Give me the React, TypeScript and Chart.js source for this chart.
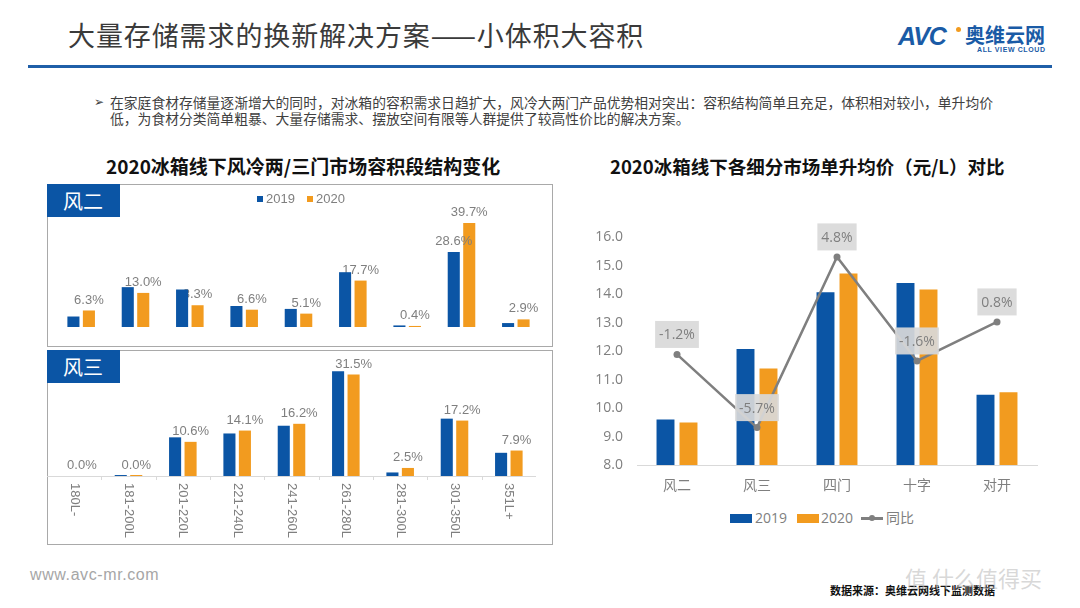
import React, { useEffect, useRef } from 'react';
import { Chart, registerables } from 'chart.js';

Chart.register(...registerables);

// ---------- data ----------
const capacityBands = ['180L-', '181-200L', '201-220L', '221-240L', '241-260L', '261-280L', '281-300L', '301-350L', '351L+'];
const twoDoor2019 = [4.0, 15.2, 14.3, 8.0, 6.9, 20.9, 0.6, 28.6, 1.5];
const twoDoor2020 = [6.3, 13.0, 8.3, 6.6, 5.1, 17.7, 0.4, 39.7, 2.9];
const twoDoorLabel2019 = [false, false, false, false, false, false, false, true, false];
const threeDoor2019 = [null, 0.3, 12.0, 13.2, 15.6, 32.5, 1.1, 17.8, 7.2];
const threeDoor2020 = [null, 0.04, 10.6, 14.1, 16.2, 31.5, 2.5, 17.2, 7.9];

const segments = ['风二', '风三', '四门', '十字', '对开'];
const price2019 = [9.6, 12.08, 14.07, 14.4, 10.47];
const price2020 = [9.49, 11.39, 14.73, 14.17, 10.56];
const priceYoY = [-1.2, -5.7, 4.8, -1.6, 0.8];
const priceAxisMin = 8;
const priceAxisMax = 16;
const yoyAxisMin = -8;
const yoyAxisMax = 6;

const seriesNames = ['2019', '2020'];
const yoyName = '同比';

// ---------- styles ----------
const BLUE = '#0b55a5';
const ORANGE = '#f29b1f';
const GREY = '#7f7f7f';
const LATIN = '"Liberation Sans", Arial, sans-serif';
const CJK = '"Open Sans", "Noto Sans CJK SC", sans-serif';

const fmt = (v: any) => `${(v == null ? 0 : Number(v)).toFixed(1)}%`;

function drawBarLabels(chart: any, under: boolean) {
  const { ctx } = chart;
  const yScale = chart.scales.y;
  ctx.save();
  ctx.font = `13px ${LATIN}`;
  ctx.fillStyle = GREY;
  ctx.textAlign = 'center';
  ctx.textBaseline = 'bottom';
  chart.data.datasets.forEach((ds: any, di: number) => {
    if (!!ds.labelsUnder !== under) return;
    const mask: boolean[] | undefined = ds.labelMask;
    const meta = chart.getDatasetMeta(di);
    ds.data.forEach((raw: any, i: number) => {
      if (mask && !mask[i]) return;
      const el = meta.data[i];
      const x = el && isFinite(el.x) ? el.x : chart.scales.x.getPixelForValue(i);
      const v = raw == null ? 0 : Number(raw);
      const y = yScale.getPixelForValue(v);
      ctx.fillText(fmt(raw), x, y - 4);
    });
  });
  ctx.restore();
}

const barLabelsPlugin = {
  id: 'barLabels',
  beforeDatasetsDraw(chart: any) {
    drawBarLabels(chart, true);
  },
  afterDatasetsDraw(chart: any) {
    drawBarLabels(chart, false);
  },
};

const rotatedAxisPlugin = {
  id: 'rotatedAxis',
  afterDraw(chart: any) {
    const { ctx, chartArea } = chart;
    const xScale = chart.scales.x;
    const base = chart.scales.y.getPixelForValue(0);
    ctx.save();
    ctx.strokeStyle = '#d9d9d9';
    ctx.lineWidth = 1;
    ctx.beginPath();
    ctx.moveTo(chartArea.left, Math.round(base) + 0.5);
    ctx.lineTo(chartArea.right, Math.round(base) + 0.5);
    const n = chart.data.labels.length;
    const step = (chartArea.right - chartArea.left) / n;
    for (let i = 1; i < n; i++) {
      const x = Math.round(chartArea.left + step * i) + 0.5;
      ctx.moveTo(x, Math.round(base));
      ctx.lineTo(x, Math.round(base) + 4);
    }
    ctx.stroke();
    ctx.font = `13px ${LATIN}`;
    ctx.fillStyle = GREY;
    ctx.textAlign = 'left';
    ctx.textBaseline = 'middle';
    chart.data.labels.forEach((lab: string, i: number) => {
      const x = xScale.getPixelForValue(i);
      ctx.save();
      ctx.translate(x, base + 7);
      ctx.rotate(Math.PI / 2);
      ctx.fillText(lab, 0, 0);
      ctx.restore();
    });
    ctx.restore();
  },
};

const yoyLabelsPlugin = {
  id: 'yoyLabels',
  afterDatasetsDraw(chart: any) {
    const { ctx } = chart;
    ctx.save();
    ctx.font = `14px ${CJK}`;
    ctx.textAlign = 'center';
    ctx.textBaseline = 'middle';
    chart.data.datasets.forEach((ds: any, di: number) => {
      if (ds.type !== 'line') return;
      const meta = chart.getDatasetMeta(di);
      ds.data.forEach((v: number, i: number) => {
        const p = meta.data[i];
        const text = fmt(v);
        const w = ctx.measureText(text).width + 8;
        const h = 27;
        const cy = p.y - 20;
        ctx.fillStyle = 'rgba(217,217,217,0.92)';
        ctx.fillRect(p.x - w / 2, cy - h / 2, w, h);
        ctx.fillStyle = GREY;
        ctx.fillText(text, p.x, cy + 1);
      });
    });
    ctx.restore();
  },
};

function ChartBox({ left, top, width, height, make }: any) {
  const ref = useRef<HTMLCanvasElement>(null);
  useEffect(() => {
    const chart = new Chart(ref.current as HTMLCanvasElement, make());
    return () => chart.destroy();
  }, []);
  return (
    <canvas
      ref={ref}
      width={width}
      height={height}
      style={{ position: 'absolute', left, top, width, height }}
    />
  );
}

const twoDoorConfig = (): any => ({
  type: 'bar',
  data: {
    labels: capacityBands,
    datasets: [
      { label: seriesNames[0], data: twoDoor2019, backgroundColor: BLUE, labelMask: twoDoorLabel2019, labelsUnder: false },
      { label: seriesNames[1], data: twoDoor2020, backgroundColor: ORANGE, labelsUnder: true },
    ],
  },
  options: {
    animation: false,
    responsive: false,
    layout: { padding: { left: 7, right: 10, top: 25, bottom: 20 } },
    datasets: { bar: { categoryPercentage: 0.57, barPercentage: 0.78 } },
    scales: {
      x: { display: false },
      y: { display: false, min: 0, max: 45 },
    },
    plugins: { legend: { display: false }, tooltip: { enabled: false } },
  },
  plugins: [barLabelsPlugin],
});

const threeDoorConfig = (): any => ({
  type: 'bar',
  data: {
    labels: capacityBands,
    datasets: [
      { label: seriesNames[0], data: threeDoor2019, backgroundColor: BLUE, labelMask: capacityBands.map(() => false) },
      { label: seriesNames[1], data: threeDoor2020, backgroundColor: ORANGE, labelsUnder: true, minBarLength: 1 },
    ],
  },
  options: {
    animation: false,
    responsive: false,
    layout: { padding: { left: 0, right: 17, top: 10, bottom: 69 } },
    datasets: { bar: { categoryPercentage: 0.57, barPercentage: 0.78 } },
    scales: {
      x: { display: false },
      y: { display: false, min: 0, max: 36 },
    },
    plugins: { legend: { display: false }, tooltip: { enabled: false } },
  },
  plugins: [barLabelsPlugin, rotatedAxisPlugin],
});

const priceConfig = (): any => ({
  type: 'bar',
  data: {
    labels: segments,
    datasets: [
      { label: seriesNames[0], data: price2019, backgroundColor: BLUE, yAxisID: 'y', order: 2 },
      { label: seriesNames[1], data: price2020, backgroundColor: ORANGE, yAxisID: 'y', order: 2 },
      {
        type: 'line',
        label: yoyName,
        data: priceYoY,
        yAxisID: 'y1',
        borderColor: GREY,
        backgroundColor: GREY,
        borderWidth: 2.5,
        pointRadius: 3.5,
        pointBackgroundColor: GREY,
        pointBorderWidth: 0,
        order: 0,
      },
    ],
  },
  options: {
    animation: false,
    responsive: false,
    layout: { padding: { left: 0, right: 13, top: 18, bottom: 0 } },
    datasets: { bar: { categoryPercentage: 0.575, barPercentage: 0.78 } },
    scales: {
      x: {
        grid: { display: false, drawTicks: false },
        border: { display: true, color: '#d9d9d9', width: 1 },
        ticks: { color: GREY, font: { size: 14, family: CJK }, padding: 13 },
        afterFit: (s: any) => {
          s.height = 30;
        },
      },
      y: {
        min: priceAxisMin,
        max: priceAxisMax,
        grid: { display: false, drawTicks: false },
        border: { display: false },
        ticks: {
          stepSize: 1,
          color: GREY,
          font: { size: 14, family: CJK },
          padding: 14,
          callback: (v: any) => Number(v).toFixed(1),
        },
        afterFit: (s: any) => {
          s.width = 52;
        },
      },
      y1: { display: false, min: yoyAxisMin, max: yoyAxisMax },
    },
    plugins: { legend: { display: false }, tooltip: { enabled: false } },
  },
  plugins: [yoyLabelsPlugin],
});

const abs = (o: any): any => ({ position: 'absolute', whiteSpace: 'nowrap', ...o });

export default function App() {
  return (
    <div
      style={{
        position: 'absolute',
        left: 0,
        top: 0,
        width: 1080,
        height: 608,
        background: '#ffffff',
        overflow: 'hidden',
        fontFamily: '"Noto Sans CJK SC", sans-serif',
      }}
    >
      {/* header */}
      <div style={abs({ left: 68, top: 17, fontSize: 27, lineHeight: '36px', color: '#3a3a3a', letterSpacing: 0.9 })}>
        大量存储需求的换新解决方案——小体积大容积
      </div>
      <div style={abs({ left: 28, top: 65, width: 1024, height: 3, background: '#1f5fa8' })} />
      {/* logo */}
      <div style={abs({ left: 898, top: 22, fontSize: 25, lineHeight: '28px', fontWeight: 900, fontStyle: 'italic', color: '#1a5ba6', fontFamily: LATIN, letterSpacing: -1 })}>
        AVC
      </div>
      <div style={abs({ left: 956, top: 27, width: 5, height: 5, borderRadius: 3, background: '#f29b1f' })} />
      <div style={abs({ left: 965, top: 23, fontSize: 20, lineHeight: '24px', fontWeight: 700, color: '#1a5ba6' })}>奥维云网</div>
      <div style={abs({ left: 977, top: 46, fontSize: 7, lineHeight: '8px', fontWeight: 700, color: '#1a5ba6', fontFamily: LATIN, letterSpacing: 0.6 })}>
        ALL VIEW CLOUD
      </div>

      {/* bullet text */}
      <div style={abs({ left: 94, top: 94, fontSize: 12, lineHeight: '16px', color: '#404040', fontFamily: '"DejaVu Sans", sans-serif' })}>➢</div>
      <div style={abs({ left: 110, top: 94, fontSize: 13.8, lineHeight: '16px', color: '#404040' })}>
        在家庭食材存储量逐渐增大的同时，对冰箱的容积需求日趋扩大，风冷大两门产品优势相对突出：容积结构简单且充足，体积相对较小，单升均价
      </div>
      <div style={abs({ left: 110, top: 110, fontSize: 13.8, lineHeight: '16px', color: '#404040' })}>
        低，为食材分类简单粗暴、大量存储需求、摆放空间有限等人群提供了较高性价比的解决方案。
      </div>

      {/* chart titles */}
      <div style={abs({ left: 106, top: 153, fontSize: 19, lineHeight: '26px', fontWeight: 700, color: '#111' })}>
        2020冰箱线下风冷两/三门市场容积段结构变化
      </div>
      <div style={abs({ left: 610, top: 153, fontSize: 18.5, lineHeight: '26px', fontWeight: 700, color: '#111' })}>
        2020冰箱线下各细分市场单升均价（元/L）对比
      </div>

      {/* left panels */}
      <div style={abs({ left: 47, top: 184, width: 506, height: 163, border: '1px solid #a9a9a9', boxSizing: 'border-box' })} />
      <div style={abs({ left: 47, top: 350, width: 506, height: 195, border: '1px solid #a9a9a9', boxSizing: 'border-box' })} />

      <ChartBox left={47} top={184} width={506} height={163} make={twoDoorConfig} />
      <ChartBox left={47} top={350} width={506} height={195} make={threeDoorConfig} />

      <div style={abs({ left: 47, top: 184, width: 73, height: 33, background: BLUE, color: '#fff', fontSize: 20, lineHeight: '33px', paddingLeft: 16, boxSizing: 'border-box' })}>
        风二
      </div>
      <div style={abs({ left: 47, top: 350, width: 73, height: 33, background: BLUE, color: '#fff', fontSize: 20, lineHeight: '33px', paddingLeft: 16, boxSizing: 'border-box' })}>
        风三
      </div>

      {/* top-left legend */}
      <div style={abs({ left: 257, top: 196, width: 6, height: 6, background: BLUE })} />
      <div style={abs({ left: 266, top: 191, fontSize: 13, lineHeight: '15px', color: GREY, fontFamily: LATIN })}>{seriesNames[0]}</div>
      <div style={abs({ left: 307, top: 196, width: 6, height: 6, background: ORANGE })} />
      <div style={abs({ left: 316, top: 191, fontSize: 13, lineHeight: '15px', color: GREY, fontFamily: LATIN })}>{seriesNames[1]}</div>

      {/* right chart */}
      <ChartBox left={585} top={215} width={465} height={280} make={priceConfig} />

      {/* right legend */}
      <div style={abs({ left: 730, top: 514, width: 22, height: 9, background: BLUE })} />
      <div style={abs({ left: 755, top: 509, fontSize: 14, lineHeight: '18px', color: GREY, fontFamily: CJK })}>{seriesNames[0]}</div>
      <div style={abs({ left: 797, top: 514, width: 22, height: 9, background: ORANGE })} />
      <div style={abs({ left: 821, top: 509, fontSize: 14, lineHeight: '18px', color: GREY, fontFamily: CJK })}>{seriesNames[1]}</div>
      <div style={abs({ left: 861, top: 517, width: 22, height: 2.5, background: GREY })} />
      <div style={abs({ left: 869, top: 515, width: 6, height: 6, borderRadius: 3, background: GREY })} />
      <div style={abs({ left: 886, top: 509, fontSize: 14, lineHeight: '18px', color: GREY, fontFamily: CJK })}>{yoyName}</div>

      {/* footer */}
      <div style={abs({ left: 30, top: 565, fontSize: 16, lineHeight: '20px', color: '#a6a6a6', fontFamily: LATIN, letterSpacing: 0.6 })}>
        www.avc-mr.com
      </div>
      <div style={abs({ left: 830, top: 582, fontSize: 11, lineHeight: '16px', color: '#111', fontWeight: 700 })}>
        数据来源：奥维云网线下监测数据
      </div>
      <div style={abs({ left: 905, top: 562, fontSize: 22, lineHeight: '30px', color: 'rgba(190,190,190,0.6)' })}>
        值 什么值得买
      </div>
    </div>
  );
}
